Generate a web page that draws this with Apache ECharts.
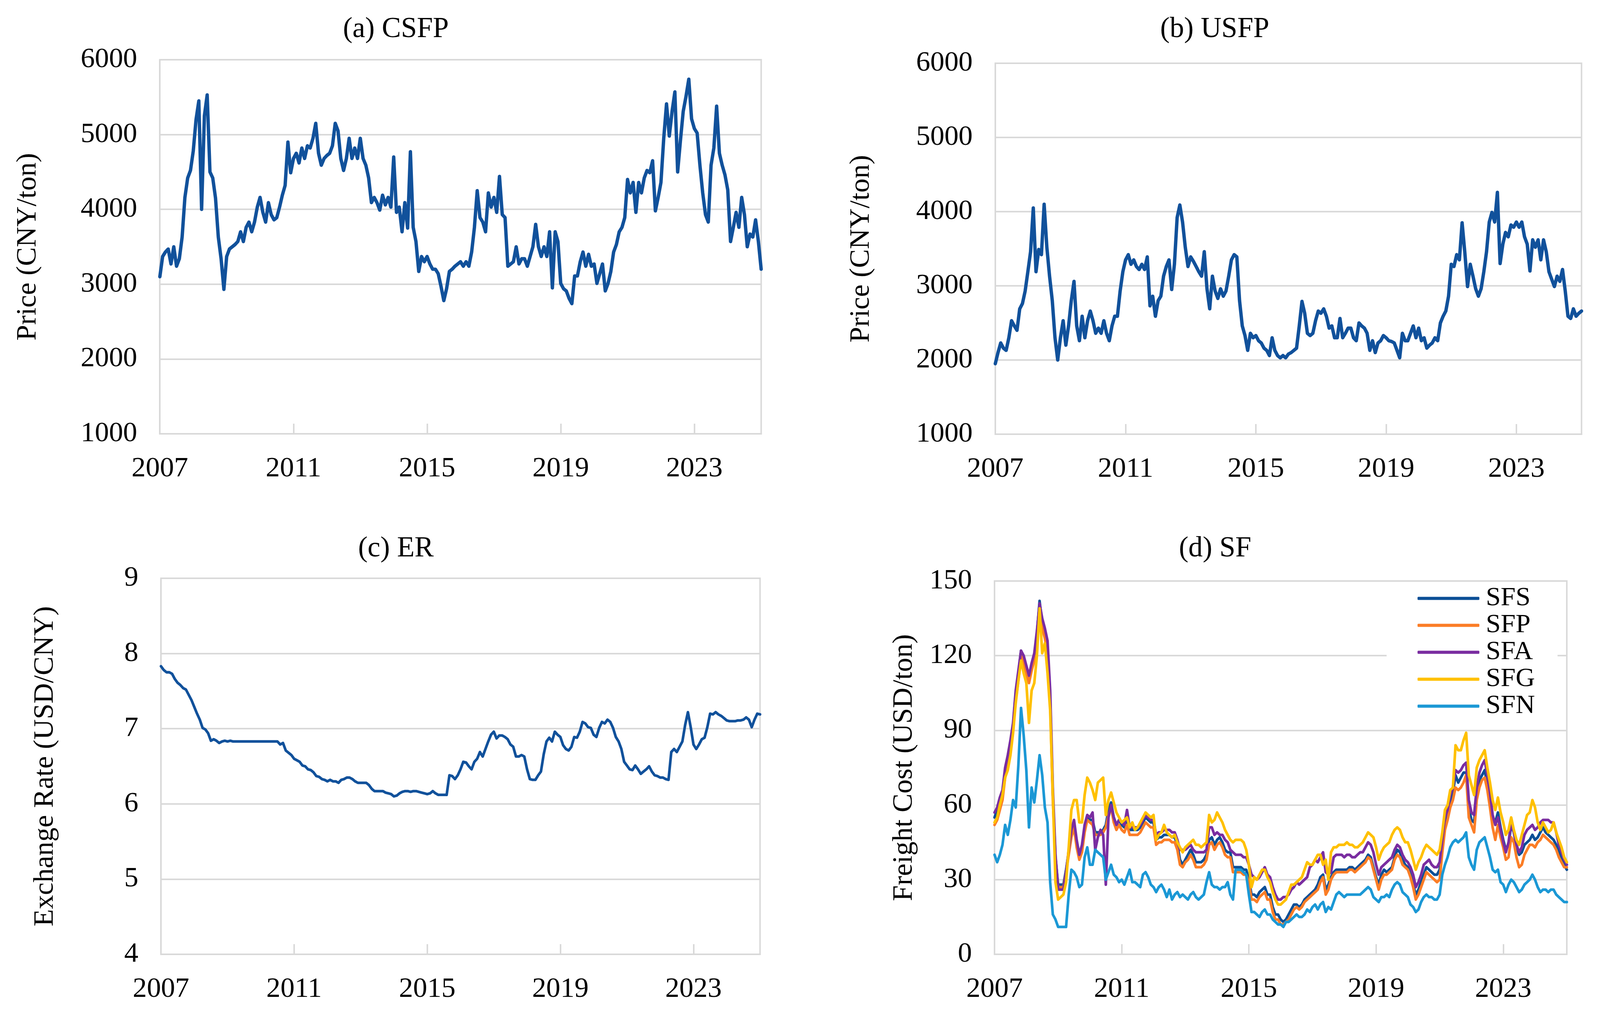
<!DOCTYPE html>
<html><head><meta charset="utf-8">
<script src="https://cdn.jsdelivr.net/npm/echarts@6/dist/echarts.min.js"></script>
<style>html,body{margin:0;padding:0;background:#fff;overflow:hidden}#c{width:100vw;height:100vh}</style>
</head><body><div id="c"></div>
<script>
// Monthly samples, Jan 2007 .. Jan 2025 (217 points each)
const startYear = 2007;
const xTickYears = [2007, 2011, 2015, 2019, 2023];

const csfp = [
3100,3370,3430,3470,3270,3500,3240,3340,3630,4160,4420,4520,
4780,5200,5450,4000,5250,5530,4500,4420,4150,3630,3340,2930,
3370,3470,3500,3530,3570,3700,3570,3760,3830,3700,3830,4030,
4160,3960,3830,4090,3930,3860,3890,4030,4190,4320,4900,4490,
4680,4750,4620,4820,4680,4850,4820,4950,5150,4750,4590,4680,
4720,4750,4850,5150,5050,4680,4520,4680,4950,4680,4820,4680,
4950,4680,4590,4420,4090,4160,4090,3990,4190,4060,4160,4030,
4700,3960,4030,3700,4090,3750,4770,3760,3570,3170,3370,3300,
3370,3270,3200,3200,3140,2970,2780,2940,3170,3200,3240,3270,
3300,3240,3300,3240,3430,3760,4250,3890,3830,3700,4220,4030,
4160,3960,4440,3930,3890,3240,3270,3300,3500,3270,3340,3340,
3240,3370,3500,3800,3500,3370,3500,3370,3700,2950,3700,3570,
3010,2940,2910,2810,2740,3110,3110,3300,3430,3240,3400,3240,
3270,3010,3140,3270,2910,3010,3170,3430,3530,3700,3760,3890,
4400,4220,4360,3960,4360,4220,4420,4520,4490,4650,3980,4160,
4360,4950,5410,4980,5310,5570,4500,4920,5310,5510,5740,5210,
5080,5020,4590,4220,3930,3830,4590,4820,5380,4750,4590,4460,
4260,3570,3760,3960,3760,4160,3930,3500,3670,3630,3860,3570,
3200];

const usfp = [
1950,2100,2230,2160,2130,2300,2530,2460,2400,2690,2760,2930,
3190,3460,4050,3190,3490,3420,4100,3520,3130,2800,2300,2000,
2300,2530,2200,2460,2800,3060,2460,2260,2590,2300,2530,2660,
2530,2360,2430,2360,2530,2360,2260,2460,2590,2590,2930,3190,
3350,3420,3290,3350,3260,3220,3290,3220,3390,2730,2860,2590,
2800,2860,3130,3260,3350,2950,3290,3920,4090,3860,3520,3260,
3390,3330,3260,3190,3130,3460,2960,2690,3130,2930,2830,2960,
2860,2930,3130,3350,3420,3390,2800,2460,2330,2130,2360,2300,
2330,2260,2230,2160,2130,2060,2300,2130,2060,2030,2060,2030,
2080,2100,2130,2160,2460,2790,2630,2360,2330,2360,2530,2660,
2630,2690,2590,2430,2460,2300,2300,2560,2300,2360,2430,2430,
2300,2260,2500,2460,2430,2360,2130,2260,2100,2230,2260,2330,
2300,2260,2250,2230,2130,2030,2360,2260,2260,2360,2460,2300,
2430,2260,2300,2160,2200,2230,2300,2260,2500,2590,2660,2860,
3290,3260,3420,3350,3850,3450,2990,3290,3130,2960,2860,2960,
3190,3460,3860,3990,3860,4260,3300,3560,3720,3660,3820,3790,
3860,3790,3860,3660,3560,3200,3620,3520,3620,3350,3620,3460,
3190,3090,2990,3130,3060,3220,2930,2590,2560,2690,2590,2630,
2660];

const er = [
7.83,7.78,7.75,7.75,7.73,7.66,7.61,7.58,7.54,7.52,7.45,7.38,
7.29,7.20,7.12,7.01,6.99,6.94,6.84,6.86,6.84,6.81,6.83,6.84,
6.83,6.84,6.83,6.83,6.83,6.83,6.83,6.83,6.83,6.83,6.83,6.83,
6.83,6.83,6.83,6.83,6.83,6.83,6.83,6.79,6.81,6.71,6.68,6.65,
6.60,6.58,6.56,6.51,6.50,6.46,6.45,6.42,6.37,6.36,6.33,6.32,
6.30,6.32,6.30,6.30,6.28,6.32,6.33,6.35,6.35,6.33,6.30,6.28,
6.28,6.28,6.28,6.25,6.20,6.17,6.17,6.17,6.17,6.15,6.14,6.13,
6.10,6.11,6.14,6.16,6.17,6.17,6.16,6.17,6.17,6.16,6.15,6.14,
6.13,6.14,6.17,6.14,6.12,6.12,6.12,6.12,6.38,6.37,6.33,6.38,
6.46,6.56,6.55,6.50,6.46,6.56,6.60,6.69,6.63,6.73,6.83,6.92,
6.96,6.87,6.91,6.91,6.89,6.86,6.79,6.76,6.63,6.63,6.65,6.63,
6.46,6.33,6.32,6.32,6.38,6.43,6.66,6.83,6.88,6.83,6.96,6.92,
6.89,6.78,6.73,6.71,6.76,6.89,6.88,6.96,7.09,7.07,7.02,7.01,
6.92,6.89,7.01,7.09,7.07,7.12,7.09,7.01,6.89,6.83,6.73,6.56,
6.51,6.46,6.45,6.51,6.46,6.40,6.43,6.46,6.50,6.43,6.38,6.37,
6.35,6.35,6.33,6.32,6.69,6.73,6.69,6.76,6.83,7.05,7.22,7.02,
6.79,6.73,6.79,6.86,6.88,7.02,7.20,7.19,7.22,7.19,7.17,7.14,
7.11,7.10,7.10,7.10,7.11,7.11,7.12,7.15,7.12,7.02,7.12,7.20,
7.19];

const sfs = [
55,58,62,65,74,78,84,92,105,113,122,119,
115,111,116,120,129,142,133,129,123,103,64,39,
28,28,28,34,41,48,52,44,39,42,50,55,
54,54,49,49,49,50,52,58,61,55,52,54,
52,51,54,50,50,50,50,51,53,55,54,53,
53,46,47,47,48,48,48,47,47,44,38,36,
38,40,42,40,37,37,37,38,40,46,47,44,
46,47,45,42,41,41,35,35,35,35,34,34,
30,24,24,23,25,26,27,24,24,19,16,16,
14,13,14,16,18,20,20,19,20,22,23,24,
25,26,28,31,32,26,28,31,33,34,34,34,
34,34,35,35,34,35,36,37,38,40,39,35,
31,28,32,34,33,34,35,39,42,41,38,36,
35,32,28,24,26,29,32,35,34,33,32,32,
34,44,52,56,62,65,72,69,71,73,73,59,
54,53,65,70,72,74,68,62,55,53,57,51,
46,42,44,52,49,43,40,41,44,45,46,48,
46,47,49,51,49,48,47,46,44,41,39,36,
34];

const sfp = [
52,54,58,62,71,75,81,90,102,110,120,117,
113,109,114,118,126,140,131,127,121,101,62,38,
27,27,27,33,40,47,51,43,38,41,49,54,
53,52,48,48,48,49,51,56,59,53,50,52,
50,49,52,48,48,48,48,49,51,53,52,51,
51,44,45,45,46,46,46,45,45,42,36,35,
37,38,40,38,35,35,35,36,38,44,45,42,
44,45,43,40,39,39,33,33,33,33,32,32,
29,22,22,21,23,24,25,22,22,17,14,14,
12,12,13,14,16,18,19,18,19,21,22,23,
24,25,26,29,31,24,26,30,32,33,33,33,
33,33,34,34,33,34,35,36,37,39,38,34,
30,26,30,32,32,33,34,38,40,39,36,35,
34,31,27,22,24,27,30,33,32,31,30,29,
30,41,50,54,59,62,67,66,67,69,72,55,
52,49,62,67,70,71,66,59,51,46,52,47,
43,38,39,47,45,39,35,36,40,42,44,44,
43,45,46,48,47,46,45,44,42,39,37,35,
35];

const sfa = [
57,59,63,66,75,80,86,93,106,114,122,120,
116,112,117,121,130,141,135,131,126,106,67,40,
26,26,26,33,42,50,54,46,40,44,52,56,
55,57,42,47,50,48,28,55,60,55,52,54,
53,52,58,51,51,51,51,52,54,56,55,54,
54,48,49,49,50,50,50,49,49,46,42,42,
42,43,44,42,41,41,41,41,42,51,51,48,
49,48,48,46,45,42,41,40,40,40,39,39,
36,32,31,30,31,33,35,32,31,27,24,22,
22,23,23,24,26,27,29,28,29,30,31,35,
36,38,37,39,41,33,32,33,39,40,40,40,
39,40,40,39,39,40,41,41,43,45,44,41,
36,32,35,36,37,38,39,42,44,43,40,38,
37,35,32,27,29,32,36,37,38,36,35,35,
37,46,55,58,64,67,74,73,74,76,77,62,
57,56,67,73,76,78,72,65,56,52,55,50,
45,41,45,53,49,44,41,43,48,50,51,52,
50,51,53,54,54,54,53,53,49,44,41,38,
36];

const sfg = [
53,55,60,64,71,74,80,89,101,110,118,113,
109,93,106,109,120,139,121,125,113,98,64,29,
22,23,24,29,43,58,62,62,53,53,64,71,
69,66,62,69,70,71,56,62,65,61,57,55,
53,54,55,51,53,50,51,53,55,57,56,55,
56,46,48,49,52,49,48,47,48,45,43,41,
43,44,45,46,44,44,43,44,45,56,53,54,
57,55,53,50,48,46,45,46,46,46,45,42,
36,27,31,30,32,34,34,31,29,25,22,20,
20,21,22,25,28,28,29,30,31,34,37,36,
36,38,40,40,36,38,30,41,43,43,44,44,
44,45,44,44,43,43,44,45,47,49,48,47,
43,38,41,43,44,45,48,50,51,50,47,45,
45,42,38,34,37,39,42,44,43,42,41,40,
42,49,58,60,66,67,84,82,82,86,89,72,
68,64,75,78,80,82,75,69,62,58,63,57,
53,48,50,55,50,46,44,48,52,56,57,62,
59,53,50,53,51,49,50,53,49,46,43,39,
37];

const sfn = [
40,37,40,44,52,48,54,62,59,76,99,88,
74,51,67,61,70,80,72,59,53,29,16,14,
11,11,11,11,24,34,33,31,27,28,39,43,
36,36,42,41,40,39,30,33,36,32,31,29,
30,28,31,34,29,29,28,27,32,33,31,28,
27,25,27,28,26,23,26,22,24,25,23,24,
23,22,24,25,23,22,23,24,29,33,28,27,
27,26,27,27,29,24,22,34,34,34,33,32,
24,17,17,16,15,17,18,16,16,14,13,12,
12,11,13,13,14,15,16,15,15,16,18,17,
19,20,18,20,21,17,19,18,21,24,25,24,
23,24,24,24,24,24,24,25,26,27,26,23,
22,21,23,23,24,23,26,28,29,28,25,24,
23,20,19,17,18,21,23,24,23,23,22,22,
24,32,36,39,43,45,46,45,46,47,49,39,
36,34,42,45,46,47,43,39,34,33,34,29,
28,25,28,30,29,27,25,26,28,29,30,32,
30,27,25,26,26,25,26,26,24,23,22,21,
21];

const sfNames = ['SFS','SFP','SFA','SFG','SFN'];
const sfColors = ['#0b4f96','#fb7d26','#7a2da0','#ffc000','#1b98d5'];
const sfData = [sfs, sfp, sfa, sfg, sfn];

function pairs(arr){ return arr.map((v,i)=>[i/12, v]); }

// layout designed for 4244 x 2602, scaled to the real viewport
const el = document.getElementById('c');
const VW = el.clientWidth || 4244, VH = el.clientHeight || 2602;
const sx = VW/4244, sy = VH/2602, sf = Math.min(sx, sy);
const X = v => v*sx, Y = v => v*sy, F = v => v*sf;

const FONT = 'Liberation Serif';
const GRID_C = '#d9d9d9';

const grids = [
  {left:424, top:153, width:1595, height:958},
  {left:2640, top:162, width:1555, height:950},
  {left:427, top:1481, width:1589, height:963},
  {left:2638, top:1488, width:1518, height:956}
];
const yCfg = [
  {min:1000,max:6000,interval:1000,name:'Price (CNY/ton)',gap:312},
  {min:1000,max:6000,interval:1000,name:'Price (CNY/ton)',gap:318},
  {min:4,max:9,interval:1,name:'Exchange Rate (USD/CNY)',gap:270},
  {min:0,max:150,interval:30,name:'Freight Cost (USD/ton)',gap:202}
];

const xAxes = grids.map((g,i)=>({
  gridIndex:i, type:'value', min:0, max:18, interval:4,
  axisLine:{show:true,lineStyle:{color:GRID_C,width:F(4)}},
  axisTick:{show:true,inside:true,length:Y(26),lineStyle:{color:GRID_C,width:F(4)}},
  splitLine:{show:false},
  axisLabel:{show:true,margin:Y(54),color:'#000',fontFamily:FONT,fontSize:F(75),showMaxLabel:false,
    formatter:v=>String(startYear+v)}
}));
const yAxes = yCfg.map((c,i)=>({
  gridIndex:i, type:'value', min:c.min, max:c.max, interval:c.interval,
  name:c.name, nameLocation:'middle', nameRotate:90, nameGap:X(c.gap),
  nameTextStyle:{fontFamily:FONT,fontSize:F(75),color:'#000'},
  axisLine:{show:true,lineStyle:{color:GRID_C,width:F(4)}},
  axisTick:{show:false},
  splitLine:{show:true,lineStyle:{color:GRID_C,width:F(4)}},
  axisLabel:{margin:X(60),color:'#000',fontFamily:FONT,fontSize:F(75),formatter:v=>String(v)}
}));

const mainColor = '#11519b';
function lineSeries(name, data, xi, color, w){
  return {name:name, type:'line', xAxisIndex:xi, yAxisIndex:xi, data:pairs(data),
    symbol:'none', showSymbol:false, animation:false,
    lineStyle:{color:color,width:F(w),join:'round',cap:'round'}, itemStyle:{color:color}};
}
const series = [
  lineSeries('CSFP', csfp, 0, mainColor, 9),
  lineSeries('USFP', usfp, 1, mainColor, 9),
  lineSeries('ER', er, 2, mainColor, 7)
];
sfNames.forEach((n,k)=>series.push(lineSeries(n, sfData[k], 3, sfColors[k], 7)));

const titles = [
  {text:'(a) CSFP', x:1050, y:76},
  {text:'(b) USFP', x:3222, y:76},
  {text:'(c) ER', x:1050, y:1406},
  {text:'(d) SF', x:3223, y:1406}
];

const chart = echarts.init(el, null, {renderer:'canvas'});
chart.setOption({
  backgroundColor:'#fff',
  animation:false,
  grid: grids.map(g=>({show:true,borderColor:GRID_C,borderWidth:F(4),backgroundColor:'transparent',
    left:X(g.left), top:Y(g.top), width:X(g.width), height:Y(g.height)})),
  xAxis:xAxes,
  yAxis:yAxes,
  legend:{
    data:sfNames, orient:'vertical', left:X(3678), top:Y(1496),
    padding:[Y(2),X(60),Y(6),X(82)], itemGap:0, itemWidth:X(164), itemHeight:Y(8),
    icon:'roundRect',
    backgroundColor:'#fff',
    textStyle:{fontFamily:FONT,fontSize:F(71),lineHeight:Y(67),color:'#000',padding:[0,0,0,X(12)]}
  },
  graphic: titles.map(t=>({type:'text', x:X(t.x), y:Y(t.y),
    style:{text:t.text, fontFamily:FONT, fontSize:F(76), fill:'#000', textAlign:'center', textVerticalAlign:'middle'}})),
  series:series
});
</script></body></html>
